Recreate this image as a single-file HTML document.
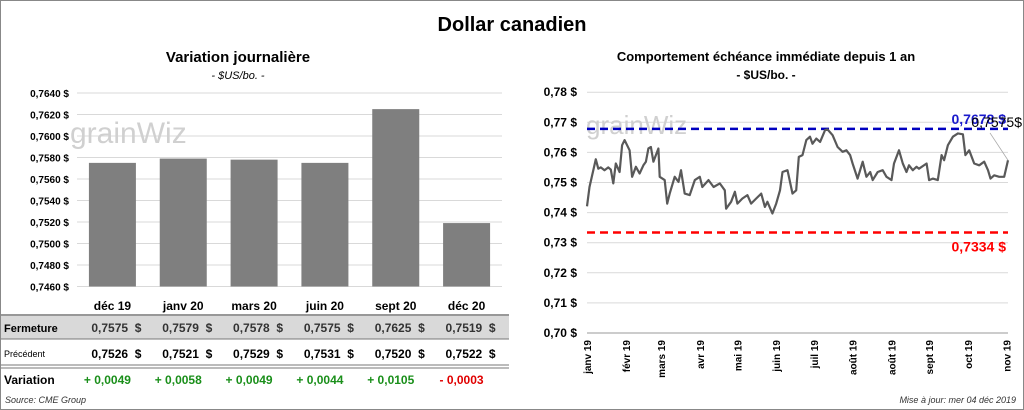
<!DOCTYPE html>
<html><head><meta charset="utf-8"><style>
body{margin:0;width:1024px;height:410px;background:#fff;font-family:"Liberation Sans",sans-serif;overflow:hidden}
svg{display:block}
</style></head><body>
<svg width="1024" height="410" xmlns="http://www.w3.org/2000/svg">
<rect x="0.5" y="0.5" width="1023" height="409" fill="#fff" stroke="#888"/>
<text x="512" y="31" text-anchor="middle" font-size="20" font-weight="bold">Dollar canadien</text>
<text x="238" y="62" text-anchor="middle" font-size="15" font-weight="bold">Variation  journalière</text>
<text x="238" y="79" text-anchor="middle" font-size="11" font-style="italic">- $US/bo. -</text>
<text x="766" y="61" text-anchor="middle" font-size="13" font-weight="bold">Comportement échéance immédiate depuis 1 an</text>
<text x="766" y="79" text-anchor="middle" font-size="12" font-weight="bold">- $US/bo. -</text>
<g id="left"></g>
<g id="right"></g>
<g id="table"></g>
<text x="5" y="403" font-size="9" font-style="italic" fill="#333">Source: CME Group</text>
<text x="1016" y="403" text-anchor="end" font-size="9" font-style="italic" fill="#333">Mise à jour: mer 04 déc 2019</text>
</svg>
<script>
const NS="http://www.w3.org/2000/svg";
const barCats=["déc 19","janv 20","mars 20","juin 20","sept 20","déc 20"];
const closeVals=[0.7575,0.7579,0.7578,0.7575,0.7625,0.7519];
const prevVals=[0.7526,0.7521,0.7529,0.7531,0.7520,0.7522];
const barTicks=[0.7460,0.7480,0.7500,0.7520,0.7540,0.7560,0.7580,0.7600,0.7620,0.7640];
const lineDays=[0,2,7,9,11,14,17,19,21,23,26,28,30,34,36,39,42,45,47,49,51,53,57,58,62,64,66,70,73,75,78,82,86,90,92,97,101,106,110,111,115,118,120,124,128,131,135,139,142,144,148,151,154,156,160,162,164,167,169,172,175,178,180,183,186,190,192,196,200,204,207,210,212,216,220,223,226,228,232,236,239,243,245,249,252,255,257,260,263,265,271,273,276,280,283,285,288,292,296,300,302,305,309,313,317,320,322,325,329,333,336];
const lineVals=[0.7421,0.7485,0.7577,0.7546,0.7550,0.7541,0.7550,0.7543,0.7497,0.7563,0.7535,0.7624,0.7641,0.7607,0.7519,0.7552,0.7530,0.7557,0.7569,0.7613,0.7618,0.7569,0.7613,0.7519,0.7508,0.7430,0.7463,0.7519,0.7502,0.7541,0.7463,0.7458,0.7508,0.7519,0.7485,0.7508,0.7485,0.7497,0.7474,0.7413,0.7436,0.7469,0.7430,0.7447,0.7458,0.7430,0.7447,0.7463,0.7419,0.7436,0.7397,0.7430,0.7474,0.7535,0.7541,0.7502,0.7463,0.7474,0.7585,0.7591,0.7641,0.7652,0.7629,0.7646,0.7635,0.7674,0.7676,0.7657,0.7618,0.7602,0.7607,0.7591,0.7563,0.7513,0.7569,0.7519,0.7535,0.7508,0.7535,0.7541,0.7519,0.7508,0.7563,0.7607,0.7563,0.7535,0.7557,0.7541,0.7552,0.7546,0.7563,0.7508,0.7513,0.7508,0.7591,0.7574,0.7624,0.7652,0.7663,0.7660,0.7591,0.7607,0.7563,0.7557,0.7569,0.7541,0.7513,0.7524,0.7519,0.7519,0.7574];
const lineTicks=[0.70,0.71,0.72,0.73,0.74,0.75,0.76,0.77,0.78];
const monthLabels=["janv 19","févr 19","mars 19","avr 19","mai 19","juin 19","juil 19","août 19","août 19","sept 19","oct 19","nov 19"];
const monthDays=[0,31,59,90,120,151,181,212,243,273,304,335];
const maxLine=0.7678, minLine=0.7334, lastLine=0.7575;

function el(tag,attrs,parent,txt){const e=document.createElementNS(NS,tag);for(const k in attrs)e.setAttribute(k,attrs[k]);if(txt!==undefined)e.textContent=txt;parent.appendChild(e);return e;}
const fmt=(v,d)=>v.toFixed(d).replace('.',',');

// left bar chart
const L=document.getElementById('left');
const lx0=77,lx1=502,ly=v=>93+(0.7640-v)/0.0020*21.5;
barTicks.forEach(t=>{
 const g=el('line',{x1:lx0,x2:lx1,y1:ly(t),y2:ly(t),stroke:'#d9d9d9'},L);
 
 const tx=el('text',{x:69,y:ly(t)+4,'text-anchor':'end','font-size':10,'font-weight':'bold'},L,fmt(t,4)+' $');
 
});
const wm1=el('text',{x:70,y:143,'font-size':30,fill:'#d0d0d0'},L,'grainWiz');

const bw=(lx1-lx0)/barCats.length;
closeVals.forEach((v,i)=>{
 const cx=lx0+bw*(i+0.5);
 const r=el('rect',{x:cx-23.5,y:ly(v),width:47,height:ly(0.7460)-ly(v),fill:'#7f7f7f'},L);
 
});
// table
const T=document.getElementById('table');
const bg=el('rect',{x:1,y:316,width:508,height:23,fill:'#d9d9d9'},T);

[[315,'#777',1.5],[339,'#777',1]].forEach(a=>{const l=el('line',{x1:1,x2:509,y1:a[0],y2:a[0],stroke:a[1],'stroke-width':a[2]},T);});
[365,368].forEach(y=>{const l=el('line',{x1:1,x2:509,y1:y,y2:y,stroke:'#777'},T);});
const rl=[['Fermeture',332,11,'bold'],['Précédent',357,9,'normal'],['Variation',384,12,'bold']];
rl.forEach(r=>{const t=el('text',{x:4,y:r[1],'font-size':r[2],'font-weight':r[3]},T,r[0]);});
barCats.forEach((c,i)=>{
 const cx=lx0+bw*(i+0.5);
 const h=el('text',{x:cx,y:310,'text-anchor':'middle','font-size':12,'font-weight':'bold'},T,c);
 
 const a=el('text',{x:cx+29,y:332,'text-anchor':'end','font-size':12,'font-weight':'bold',fill:'#333'},T,fmt(closeVals[i],4)+'  $');
 
 a.setAttribute('xml:space','preserve');a.style.whiteSpace='pre';
 const b=el('text',{x:cx+29,y:358,'text-anchor':'end','font-size':12,'font-weight':'bold'},T,fmt(prevVals[i],4)+'  $');
 b.style.whiteSpace='pre';
 const d=closeVals[i]-prevVals[i];
 const vt=el('text',{x:cx-5,y:384,'text-anchor':'middle','font-size':12,'font-weight':'bold',fill:d>=0?'#1a8f1a':'#e00000'},T,(d>=0?'+ ':'- ')+fmt(Math.abs(d),4));
 
});
// right line chart
const R=document.getElementById('right');
const rx0=587,rx1=1008,ry=v=>333-(v-0.70)/0.01*30.1,rxd=d=>rx0+d/336*(rx1-rx0);
lineTicks.forEach(t=>{
 const g=el('line',{x1:rx0,x2:rx1,y1:ry(t),y2:ry(t),stroke:'#d9d9d9'},R);
 
 const tx=el('text',{x:577,y:ry(t)+4,'text-anchor':'end','font-size':12,'font-weight':'bold'},R,fmt(t,2)+' $');
 
});
const ax=el('line',{x1:rx0,x2:rx1,y1:ry(0.70),y2:ry(0.70),stroke:'#999'},R);

monthLabels.forEach((m,i)=>{
 const x=rxd(monthDays[i])+4;
 const t=el('text',{x:x,y:340,'text-anchor':'end','font-size':10,'font-weight':'bold',transform:'rotate(-90 '+x+' 340)'},R,m);
 
});
const wm2=el('text',{x:586,y:134,'font-size':26,fill:'#d0d0d0'},R,'grainWiz');

const hi=el('line',{x1:rx0,x2:rx1,y1:ry(maxLine),y2:ry(maxLine),stroke:'#0000c0','stroke-width':2.5,'stroke-dasharray':'8,5'},R);

const lo=el('line',{x1:rx0,x2:rx1,y1:ry(minLine),y2:ry(minLine),stroke:'#ff0000','stroke-width':2.5,'stroke-dasharray':'8,5'},R);

const n=Math.min(lineDays.length,lineVals.length);
let d='';for(let i=0;i<n;i++)d+=(i?'L':'M')+rxd(lineDays[i]).toFixed(1)+' '+ry(lineVals[i]).toFixed(1);
const p=el('path',{d:d,fill:'none',stroke:'#595959','stroke-width':2.2,'stroke-linejoin':'round'},R);

const lead=el('line',{x1:rxd(lineDays[n-1]),y1:ry(lineVals[n-1]),x2:990,y2:ry(maxLine)+4,stroke:'#aaa','stroke-width':0.8},R);

const hl=el('text',{x:1006,y:ry(maxLine)-5,'text-anchor':'end','font-size':14,'font-weight':'bold',fill:'#1a1acc'},R,fmt(maxLine,4)+' $');

const ll=el('text',{x:1022,y:ry(lastLine)+0,'text-anchor':'end','font-size':14,fill:'#000'},R,fmt(lastLine,4)+'$');

ll.setAttribute('y',ry(maxLine)-2);
const ml=el('text',{x:1006,y:ry(minLine)+19,'text-anchor':'end','font-size':14,'font-weight':'bold',fill:'#ff0000'},R,fmt(minLine,4)+' $');

</script>
</body></html>
